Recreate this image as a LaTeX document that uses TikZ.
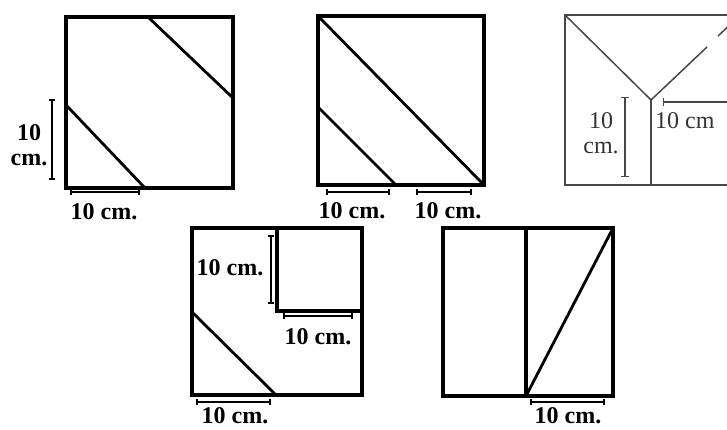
\documentclass[tikz,border=0pt]{standalone}
\usepackage{fontspec}
\setmainfont{Liberation Serif}
\usetikzlibrary{arrows.meta}
\begin{document}
\begin{tikzpicture}[x=1pt,y=-1pt,
  frame/.style={line width=3.2pt, line join=miter},
  cut/.style={line width=2.8pt},
  dimbar/.style={line width=2pt, {Bar[width=6.5pt,line width=2pt]}-{Bar[width=6.5pt,line width=2pt]}},
  lbl/.style={font=\bfseries\fontsize{24}{25}\selectfont, inner sep=0pt, align=center},
  thinline/.style={line width=1.5pt, draw=black!72},
  thindim/.style={line width=1.4pt, draw=black!72, {Bar[width=8pt,line width=1.4pt]}-{Bar[width=8pt,line width=1.4pt]}},
  thinlbl/.style={font=\fontsize{24}{25}\selectfont, text=black!80, inner sep=0pt, align=center}]
\useasboundingbox (0,0) rectangle (727,429);

% ---------- Figure 1 ----------
\coordinate (a1) at (66,17); \coordinate (a2) at (233,17);
\coordinate (a3) at (233,188); \coordinate (a4) at (66,188);
\draw[frame] (a1) -- (a2) -- (a3) -- (a4) -- cycle;
\coordinate (a5) at (148,17); \coordinate (a6) at (233,98);
\coordinate (a7) at (66,105); \coordinate (a8) at (145,188);
\draw[cut] (a5) -- (a6);
\draw[cut] (a7) -- (a8);
\coordinate (av1) at (52,99); \coordinate (av2) at (52,180);
\draw[dimbar] (av1) -- (av2);
\node[lbl] (la1) at (29,145) {10\\cm.};
\coordinate (ah1) at (70,192); \coordinate (ah2) at (140,192);
\draw[dimbar] (ah1) -- (ah2);
\node[lbl] (la2) at (104,212) {10 cm.};

% ---------- Figure 2 ----------
\coordinate (b1) at (318,16); \coordinate (b2) at (484,16);
\coordinate (b3) at (484,185); \coordinate (b4) at (318,185);
\draw[frame] (b1) -- (b2) -- (b3) -- (b4) -- cycle;
\draw[cut] (b1) -- (b3);
\coordinate (b5) at (318,107); \coordinate (b6) at (396,185);
\draw[cut] (b5) -- (b6);
\coordinate (bh1) at (326,192); \coordinate (bh2) at (390,192);
\draw[dimbar] (bh1) -- (bh2);
\coordinate (bh3) at (416,192); \coordinate (bh4) at (472,192);
\draw[dimbar] (bh3) -- (bh4);
\node[lbl] (lb1) at (352,211) {10 cm.};
\node[lbl] (lb2) at (448,211) {10 cm.};

% ---------- Figure 3 (cut off at the right) ----------
\begin{scope}
\clip (540,0) rectangle (727,429);
\coordinate (c1) at (565,15); \coordinate (c2) at (740,15);
\coordinate (c3) at (740,185); \coordinate (c4) at (565,185);
\draw[thinline] (c2) -- (c1) -- (c4) -- (c3);
\coordinate (c5) at (651,100);
\coordinate (c6) at (707,47);
\coordinate (c7) at (718,36); \coordinate (c8) at (735,20);
\draw[thinline] (c1) -- (c5) -- (c6);
\draw[thinline] (c7) -- (c8);
\coordinate (c9) at (651,185);
\draw[thinline] (c5) -- (c9);
\coordinate (cv1) at (625,97); \coordinate (cv2) at (625,177);
\draw[thindim] (cv1) -- (cv2);
\node[thinlbl] (lc1) at (601,133) {10\\cm.};
\coordinate (ch1) at (663,102); \coordinate (ch2) at (732,102);
\draw[thindim] (ch1) -- (ch2);
\node[thinlbl, anchor=west] (lc2) at (655,121) {10 cm};
\end{scope}

% ---------- Figure 4 ----------
\coordinate (d1) at (192,228); \coordinate (d2) at (362,228);
\coordinate (d3) at (362,395); \coordinate (d4) at (192,395);
\draw[frame] (d1) -- (d2) -- (d3) -- (d4) -- cycle;
\coordinate (d5) at (277,228); \coordinate (d6) at (277,311);
\coordinate (d7) at (362,311);
\draw[frame] (d5) -- (d6) -- (d7);
\coordinate (d8) at (192,312); \coordinate (d9) at (276,395);
\draw[cut] (d8) -- (d9);
\coordinate (dv1) at (271,235); \coordinate (dv2) at (271,304);
\draw[dimbar] (dv1) -- (dv2);
\node[lbl] (ld1) at (230,268) {10 cm.};
\coordinate (dh1) at (283,316); \coordinate (dh2) at (353,316);
\draw[dimbar] (dh1) -- (dh2);
\node[lbl] (ld2) at (318,337) {10 cm.};
\coordinate (dh3) at (196,402); \coordinate (dh4) at (271,402);
\draw[dimbar] (dh3) -- (dh4);
\node[lbl] (ld3) at (235,416) {10 cm.};

% ---------- Figure 5 ----------
\coordinate (e1) at (443,228); \coordinate (e2) at (613,228);
\coordinate (e3) at (613,396); \coordinate (e4) at (443,396);
\draw[frame] (e1) -- (e2) -- (e3) -- (e4) -- cycle;
\coordinate (e5) at (526,228); \coordinate (e6) at (526,396);
\draw[frame] (e5) -- (e6);
\draw[cut] (e6) -- (e2);
\coordinate (eh1) at (530,402); \coordinate (eh2) at (605,402);
\draw[dimbar] (eh1) -- (eh2);
\node[lbl] (le1) at (568,416) {10 cm.};
\end{tikzpicture}
\end{document}
